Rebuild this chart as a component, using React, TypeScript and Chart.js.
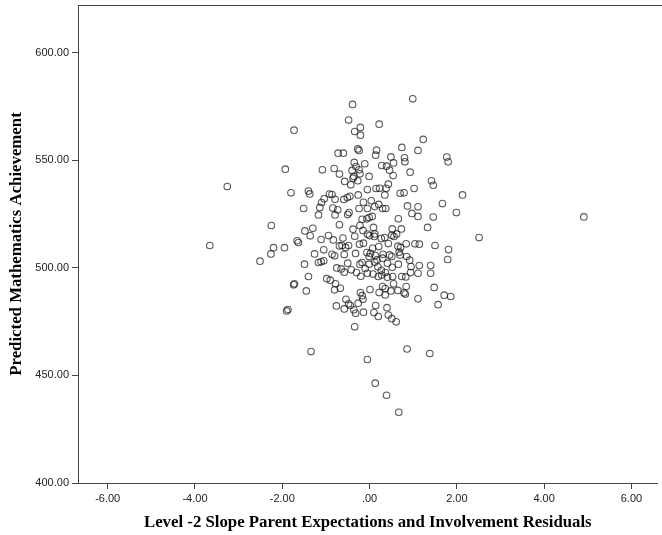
import React, { useEffect, useRef } from "react";
import { Chart, registerables } from "chart.js";

Chart.register(...registerables);

// Level-2 slope residuals (x) and predicted achievement (y), parallel arrays
const residualX: number[] = [
  -1.73, -1.93, -3.26, -1.80, -2.25, -3.66, -2.20, -2.26, -1.95, -2.51, -1.74, -1.72, -1.66, -1.63, -1.90, -1.87,
  0.99, -0.39, -0.48, 0.22, -0.21, -0.34, -0.21, 1.23, 1.11, 0.74, -0.72, -0.60, -0.27, -0.24, 0.16, 0.14,
  0.49, 0.55, 0.80, 0.81, 1.77, 1.80, -0.35, -0.31, -0.11, 0.28, 0.39, -1.08, -0.81, -0.40, -0.24, -0.22,
  0.46, 0.54, 0.93, -0.69, -0.57, -0.38, -0.36, -0.27, -0.01, -0.43, -1.40, -1.37, 1.42, 1.46, 1.02, 2.13,
  0.43, 0.38, 0.23, 0.15, -0.05, 0.35, 0.70, 0.79, -1.04, -0.92, -0.86, -0.79, -1.10, -0.51, -0.45, -0.26,
  -0.59, -0.14, 0.04, 0.21, 0.30, 0.37, 1.67, 0.87, 1.11, 0.97, 1.11, 1.99, 1.46, -1.51, -1.14, -0.84,
  -0.73, -0.79, -1.17, -0.47, -0.50, -0.24, -0.05, 0.12, 0.06, -0.01, -0.06, -0.17, 0.66, -0.69, 1.33, -0.22,
  0.09, -0.38, -0.15, 0.12, 0.52, 0.73, 0.62, -1.48, -1.30, -1.36, -1.11, -0.94, -0.83, -0.61, -0.34, -0.05,
  0.00, 0.11, 0.27, 0.35, 0.51, 0.56, 0.43, 0.84, 1.04, 1.14, 1.50, 1.81, 1.79, 1.40, 1.40, -0.69,
  -0.63, -0.55, -0.48, -0.23, -0.14, 0.07, 0.21, 0.65, 0.71, -1.26, -1.05, -0.86, -0.80, -0.58, -0.32, -0.06,
  0.02, -0.01, 0.13, 0.17, 0.31, 0.30, 0.51, 0.46, 0.68, 0.70, 0.85, -1.49, -1.17, -1.11, -1.05, -0.75,
  -0.50, -0.42, -0.17, -0.22, -0.10, -0.01, 0.12, 0.19, 0.27, 0.41, 0.52, 0.66, 0.92, 0.95, 1.14, -1.40,
  -0.98, -0.90, -0.58, -0.65, -0.30, -0.20, -0.05, 0.08, 0.20, 0.28, 0.36, 0.41, 0.53, 0.74, 0.83, 0.94,
  1.11, -1.45, -0.78, -0.80, -0.67, -0.54, -0.76, -0.58, -0.48, -0.44, -0.36, -0.32, -0.26, -0.21, -0.17, -0.15,
  -0.14, -0.34, 0.01, 0.14, 0.10, 0.20, 0.22, 0.30, 0.36, 0.36, 0.40, 0.43, 0.51, 0.61, 0.49, 0.55,
  0.65, 0.79, 0.82, 0.84, 1.11, 1.48, 1.57, 1.71, 1.86, -1.34, -0.05, 0.86, 1.38, 0.13, 0.39, 0.67,
  2.51, 4.91,
];

const achievementY: number[] = [
  564.0, 545.9, 537.8, 534.9, 519.7, 510.4, 509.4, 506.5, 509.4, 503.1, 492.1, 492.6, 512.6, 511.8, 480.0, 480.6,
  578.6, 576.0, 568.7, 566.8, 565.3, 563.4, 561.7, 559.7, 554.6, 556.0, 553.3, 553.3, 555.3, 554.6, 554.7, 552.4,
  551.6, 548.8, 551.2, 549.3, 551.5, 549.3, 549.0, 547.1, 548.4, 547.6, 547.3, 545.6, 546.2, 545.3, 545.6, 543.7,
  545.4, 542.9, 544.5, 543.6, 540.2, 541.7, 542.5, 540.5, 542.5, 538.6, 535.7, 534.4, 540.5, 538.4, 536.9, 533.9,
  538.9, 537.0, 537.0, 536.9, 536.4, 533.9, 534.7, 534.9, 532.1, 534.3, 534.1, 531.9, 530.4, 532.7, 533.3, 533.9,
  531.8, 530.5, 531.2, 529.5, 527.6, 527.6, 529.9, 528.8, 528.4, 525.3, 523.9, 525.7, 523.6, 527.6, 528.1, 527.8,
  527.0, 524.6, 524.6, 525.7, 524.8, 527.6, 527.6, 528.5, 523.9, 523.4, 522.8, 522.6, 522.8, 520.0, 518.8, 519.7,
  518.8, 518.0, 517.4, 515.8, 518.1, 518.1, 515.8, 517.2, 518.4, 514.9, 513.2, 515.0, 513.0, 513.9, 514.7, 515.7,
  515.0, 514.6, 513.6, 514.1, 515.2, 514.6, 511.3, 511.2, 511.2, 511.0, 510.4, 508.5, 503.9, 501.1, 497.5, 510.2,
  510.4, 509.5, 510.4, 511.0, 511.5, 509.1, 509.9, 510.1, 509.5, 506.5, 508.4, 506.3, 505.6, 506.2, 506.7, 507.1,
  506.7, 505.3, 505.7, 503.7, 506.3, 504.5, 505.3, 506.0, 507.3, 506.0, 505.3, 501.7, 502.5, 502.8, 503.3, 500.0,
  502.2, 499.1, 502.5, 501.7, 499.7, 501.7, 502.6, 500.5, 498.9, 502.2, 500.3, 501.7, 503.6, 500.6, 501.1, 496.0,
  495.0, 494.3, 498.0, 499.5, 497.8, 496.1, 497.5, 497.1, 496.0, 496.7, 497.8, 495.7, 496.0, 496.0, 495.8, 497.8,
  497.5, 489.3, 492.6, 489.8, 490.5, 485.4, 482.3, 480.9, 483.3, 482.5, 480.5, 478.9, 483.6, 488.5, 487.1, 485.4,
  479.4, 472.6, 489.9, 482.5, 479.2, 477.4, 488.5, 491.3, 490.4, 487.4, 481.5, 478.1, 476.4, 474.9, 489.3, 492.6,
  489.5, 488.4, 487.8, 491.3, 485.6, 490.9, 482.9, 487.3, 486.7, 461.1, 457.4, 462.3, 460.2, 446.4, 440.8, 432.9,
  514.1, 523.7,
];

const xTickValues = [-6, -4, -2, 0, 2, 4, 6];
const yTickValues = [400, 450, 500, 550, 600];
const xAxisTitle = "Level -2 Slope Parent Expectations and Involvement Residuals";
const yAxisTitle = "Predicted Mathematics Achievement";

function fmt(v: number): string {
  const a = Math.abs(v).toFixed(2);
  const s = Math.abs(v) < 1 ? a.slice(1) : a;
  return (v < 0 ? "-" : "") + s;
}

export default function App() {
  const ref = useRef<HTMLCanvasElement>(null);

  useEffect(() => {
    if (!ref.current) return;
    const points = residualX.map((x, i) => ({ x, y: achievementY[i] }));
    const frame = {
      id: "topFrame",
      afterDraw(chart: any) {
        const { ctx, chartArea } = chart;
        ctx.save();
        ctx.strokeStyle = "#444";
        ctx.lineWidth = 1;
        ctx.beginPath();
        ctx.moveTo(chartArea.left, chartArea.top + 0.5);
        ctx.lineTo(chart.width, chartArea.top + 0.5);
        ctx.stroke();
        ctx.restore();
      },
    };
    const tickFont = { family: "'Liberation Sans', Arial, sans-serif", size: 11 };
    const titleFont = { family: "'Liberation Serif', 'Times New Roman', serif", size: 16.8, weight: "bold" as const };
    const chart = new Chart(ref.current, {
      type: "scatter",
      data: {
        datasets: [
          {
            data: points,
            pointStyle: "circle",
            pointRadius: 3.3,
            pointHoverRadius: 3.3,
            pointBorderWidth: 1.1,
            borderColor: "rgba(25,25,25,0.72)",
            pointBorderColor: "rgba(25,25,25,0.72)",
            backgroundColor: "rgba(0,0,0,0)",
            pointBackgroundColor: "rgba(0,0,0,0)",
          },
        ],
      },
      plugins: [frame],
      options: {
        animation: false,
        responsive: false,
        devicePixelRatio: 1,
        events: [],
        layout: { padding: { top: 5, left: 0, right: 0, bottom: 0 } },
        plugins: { legend: { display: false }, tooltip: { enabled: false } },
        scales: {
          x: {
            type: "linear",
            min: -6.68,
            max: 6.6,
            afterBuildTicks: (s: any) => {
              s.ticks = xTickValues.map((v) => ({ value: v }));
            },
            afterFit: (s: any) => {
              s.height = 52;
              s.paddingLeft = 0;
              s.paddingRight = 0;
            },
            grid: { drawOnChartArea: false, drawTicks: true, tickLength: 6, color: "#444", lineWidth: 1 },
            border: { color: "#444", width: 1 },
            ticks: {
              callback: (v: any) => fmt(Number(v)),
              font: tickFont,
              color: "#222",
              padding: 3,
              maxRotation: 0,
              autoSkip: false,
            },
            title: { display: true, text: xAxisTitle, font: titleFont, color: "#000", padding: { top: 0, bottom: 2.5 } },
          },
          y: {
            type: "linear",
            min: 400,
            max: 622.2,
            afterBuildTicks: (s: any) => {
              s.ticks = yTickValues.map((v) => ({ value: v }));
            },
            afterFit: (s: any) => {
              s.width = 78;
              s.paddingTop = 0;
              s.paddingBottom = 0;
            },
            grid: { drawOnChartArea: false, drawTicks: true, tickLength: 6, color: "#444", lineWidth: 1 },
            border: { color: "#444", width: 1 },
            ticks: {
              callback: (v: any) => Number(v).toFixed(2),
              font: tickFont,
              color: "#222",
              padding: 3,
              autoSkip: false,
            },
            title: { display: true, text: yAxisTitle, font: titleFont, color: "#000", padding: { top: 7, bottom: 0 } },
          },
        },
      },
    });
    return () => chart.destroy();
  }, []);

  return (
    <div style={{ position: "absolute", left: 0, top: 0, width: 662, height: 535, background: "#fff" }}>
      <canvas ref={ref} width={662} height={535} style={{ display: "block" }} />
    </div>
  );
}
